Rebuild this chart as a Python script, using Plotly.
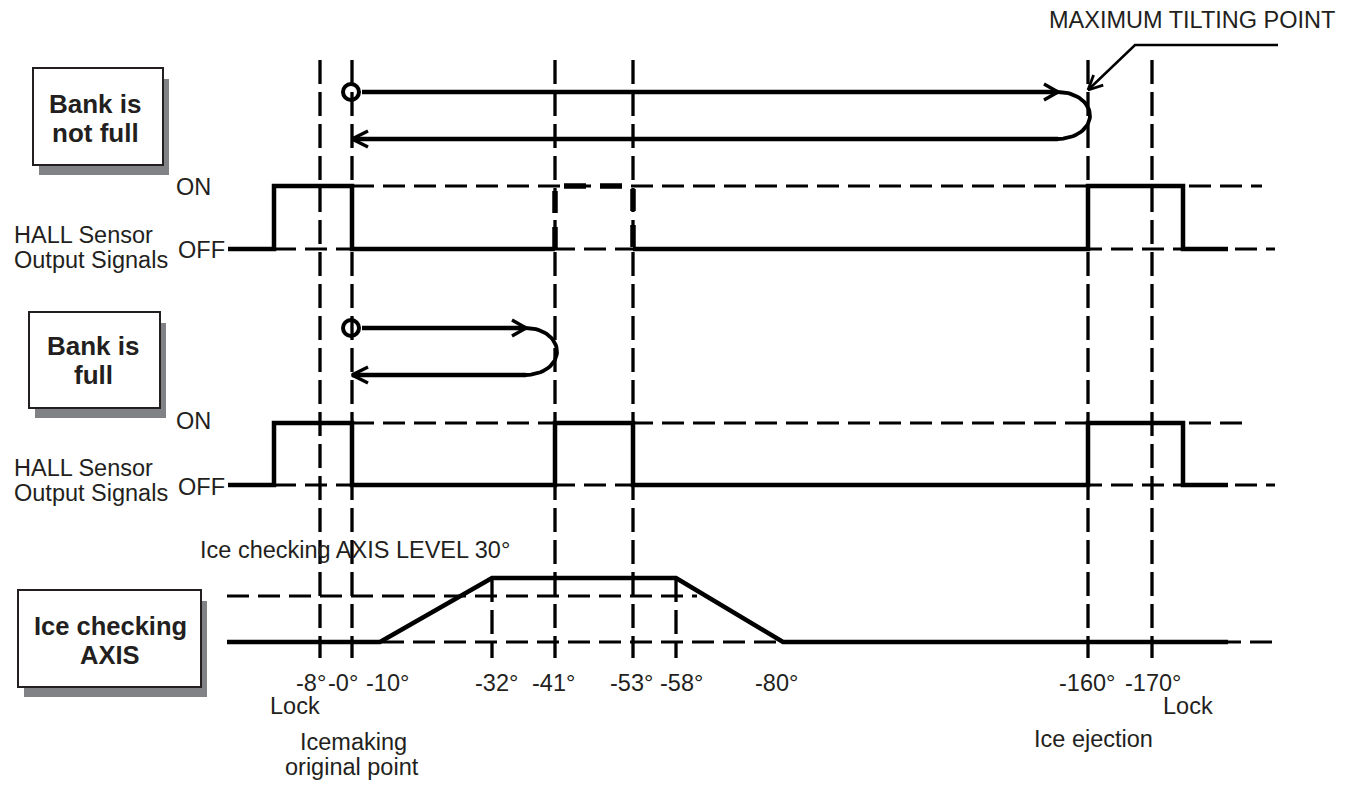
import numpy as np
import plotly.graph_objects as go

# ---------------- data ----------------
# angle events along the rotation (label, diagram x-position)
angle_labels = ["-8°", "-0°", "-10°", "-32°", "-41°", "-53°", "-58°", "-80°", "-160°", "-170°"]
angle_x = [320, 352, 380, 492, 555, 633, 676, 783, 1088, 1152]
angle_label_x = [311, 343, 387, 496, 553, 631, 681, 776, 1087, 1153]
full_guides = ["-8°", "-0°", "-41°", "-53°", "-160°", "-170°"]
short_guides = ["-32°", "-58°"]

# HALL sensor output (1 = ON, 0 = OFF) – bank is not full
not_full_x = [228, 274, 352, 555, None, 633, 1088, 1183, 1228]
not_full_state = [0, 1, 0, 0, None, 0, 1, 0, 0]
not_full_alt_x = [555, 555, 633, 633]
not_full_alt_state = [0, 1, 1, 0]

# HALL sensor output – bank is full
full_x = [228, 274, 352, 555, 633, 1088, 1183, 1228]
full_state = [0, 1, 0, 1, 0, 1, 0, 0]

# Ice checking axis level (degrees)
ice_x = [227, 380, 492, 676, 783, 1228]
ice_level = [0, 0, 30, 30, 0, 0]

# ---------------- layout constants ----------------
W, H = 1359, 787
OFF = 8  # default page body margin
TXT = "#231f20"
FONT = "Liberation Sans, Arial, sans-serif"
row1_on, row1_off = 186, 249
row2_on, row2_off = 423, 485
ice_base, ice_top = 642, 578
guide_top, guide_bot = 60, 658

fig = go.Figure()


def line(xs, ys, width=4.5, dash=None, color="black"):
    fig.add_trace(go.Scatter(x=xs, y=ys, mode="lines",
                             line=dict(color=color, width=width, dash=dash),
                             hoverinfo="skip", showlegend=False))


def state_y(states, on, off):
    return [None if s is None else off - s * (off - on) for s in states]


GDASH = "24px,8px"
RDASH = "22px,9px"

# vertical guide lines
pos = dict(zip(angle_labels, angle_x))
for g in full_guides:
    line([pos[g], pos[g]], [guide_top, guide_bot], width=3.3, dash=GDASH)
for g in short_guides:
    line([pos[g], pos[g]], [ice_top, guide_bot], width=3.3, dash=GDASH)

# reference dashed levels
line([352, 1262], [row1_on, row1_on], width=3, dash=RDASH)
line([274, 1275], [row1_off, row1_off], width=3, dash=RDASH)
line([352, 1245], [row2_on, row2_on], width=3, dash=RDASH)
line([274, 1275], [row2_off, row2_off], width=3, dash=RDASH)
line([227, 697], [596, 596], width=3, dash=RDASH)
line([227, 1275], [ice_base, ice_base], width=3, dash=RDASH)

# signals
fig.add_trace(go.Scatter(x=not_full_x, y=state_y(not_full_state, row1_on, row1_off),
                         mode="lines", line=dict(color="black", width=4.5, shape="hv"),
                         connectgaps=False, hoverinfo="skip", showlegend=False))
line(not_full_alt_x, state_y(not_full_alt_state, row1_on, row1_off), width=5.5, dash="22px,14px")
fig.add_trace(go.Scatter(x=full_x, y=state_y(full_state, row2_on, row2_off),
                         mode="lines", line=dict(color="black", width=4.5, shape="hv"),
                         hoverinfo="skip", showlegend=False))
scale = (ice_base - ice_top) / 30.0
line(ice_x, [ice_base - v * scale for v in ice_level], width=4.5)

# rotation paths (arrows + turnaround arcs)
def path(cy_top, cy_bot, x_start, x_turn, rx):
    cy = (cy_top + cy_bot) / 2
    ry = (cy_bot - cy_top) / 2
    line([x_start + 10, x_turn], [cy_top, cy_top], width=4.5)
    line([x_turn, x_start], [cy_bot, cy_bot], width=4.5)
    t = np.linspace(-np.pi / 2, np.pi / 2, 40)
    line(list(x_turn + rx * np.cos(t)), list(cy + ry * np.sin(t)), width=3.8)
    # arrowheads
    line([x_turn - 14, x_turn, x_turn - 14], [cy_top - 8, cy_top, cy_top + 8], width=3.4)
    line([x_start + 16, x_start, x_start + 16], [cy_bot - 8, cy_bot, cy_bot + 8], width=3.4)
    fig.add_trace(go.Scatter(x=[x_start - 1], y=[cy_top], mode="markers",
                             marker=dict(symbol="circle-open", size=16, color="black",
                                         line=dict(width=4, color="black")),
                             hoverinfo="skip", showlegend=False))

path(92, 139, 352, 1058, 32)
path(328, 375, 352, 526, 31)

# maximum tilting point leader
tip = np.array([1088.0, 90.0])
start = np.array([1135.0, 45.0])
line([1278, 1135, tip[0]], [45, 45, tip[1]], width=2.5)
d = (start - tip) / np.linalg.norm(start - tip)
for ang in (0.45, -0.45):
    rot = np.array([[np.cos(ang), -np.sin(ang)], [np.sin(ang), np.cos(ang)]])
    p = tip + 16 * rot @ d
    line([tip[0], p[0]], [tip[1], p[1]], width=2.8)

# boxes with shadows
shapes = []
for (x0, y0, x1, y1) in [(33, 68, 163, 165), (29, 312, 160, 408), (18, 590, 201, 687)]:
    shapes.append(dict(type="rect", xref="x", yref="y", x0=x0 + 6, y0=y0 + 11, x1=x1 + 6, y1=y1 + 10,
                       fillcolor="#808285", line=dict(width=0), layer="below"))
    shapes.append(dict(type="rect", xref="x", yref="y", x0=x0, y0=y0, x1=x1, y1=y1,
                       fillcolor="white", line=dict(color=TXT, width=2), layer="below"))

ann = []


def text(x, y, s, size=23.5, bold=False, xanchor="center"):
    ann.append(dict(x=x, y=y, xref="x", yref="y", text=f"<b>{s}</b>" if bold else s,
                    showarrow=False, xanchor=xanchor, yanchor="middle",
                    font=dict(family=FONT, size=size, color=TXT)))

text(95, 104, "Bank is", 26, True)
text(95, 133, "not full", 26, True)
text(93, 346, "Bank is", 26, True)
text(93, 375, "full", 26, True)
text(110, 626, "Ice checking", 25.5, True)
text(110, 655, "AXIS", 25.5, True)

text(1192, 20, "MAXIMUM TILTING POINT")
for on_y, off_y, hs, os_ in [(187, 250, 235, 260), (421, 487, 468, 493)]:
    text(213, on_y, "ON", xanchor="right")
    text(227, off_y, "OFF", xanchor="right")
    text(12, hs, "HALL Sensor", xanchor="left")
    text(12, os_, "Output Signals", xanchor="left")

text(198, 550, "Ice checking AXIS LEVEL 30°", xanchor="left")
for lab, lx in zip(angle_labels, angle_label_x):
    text(lx, 683, lab)
text(295, 706, "Lock")
text(1188, 706, "Lock")
text(353, 742, "Icemaking")
text(352, 767, "original point")
text(1093, 739, "Ice ejection")

fig.update_layout(
    width=W, height=H, margin=dict(l=0, r=0, t=0, b=0),
    paper_bgcolor="white", plot_bgcolor="white",
    xaxis=dict(range=[OFF, W + OFF], visible=False, fixedrange=True),
    yaxis=dict(range=[H + OFF, OFF], visible=False, fixedrange=True),
    shapes=shapes, annotations=ann, showlegend=False,
)
fig.write_html("out.html")
